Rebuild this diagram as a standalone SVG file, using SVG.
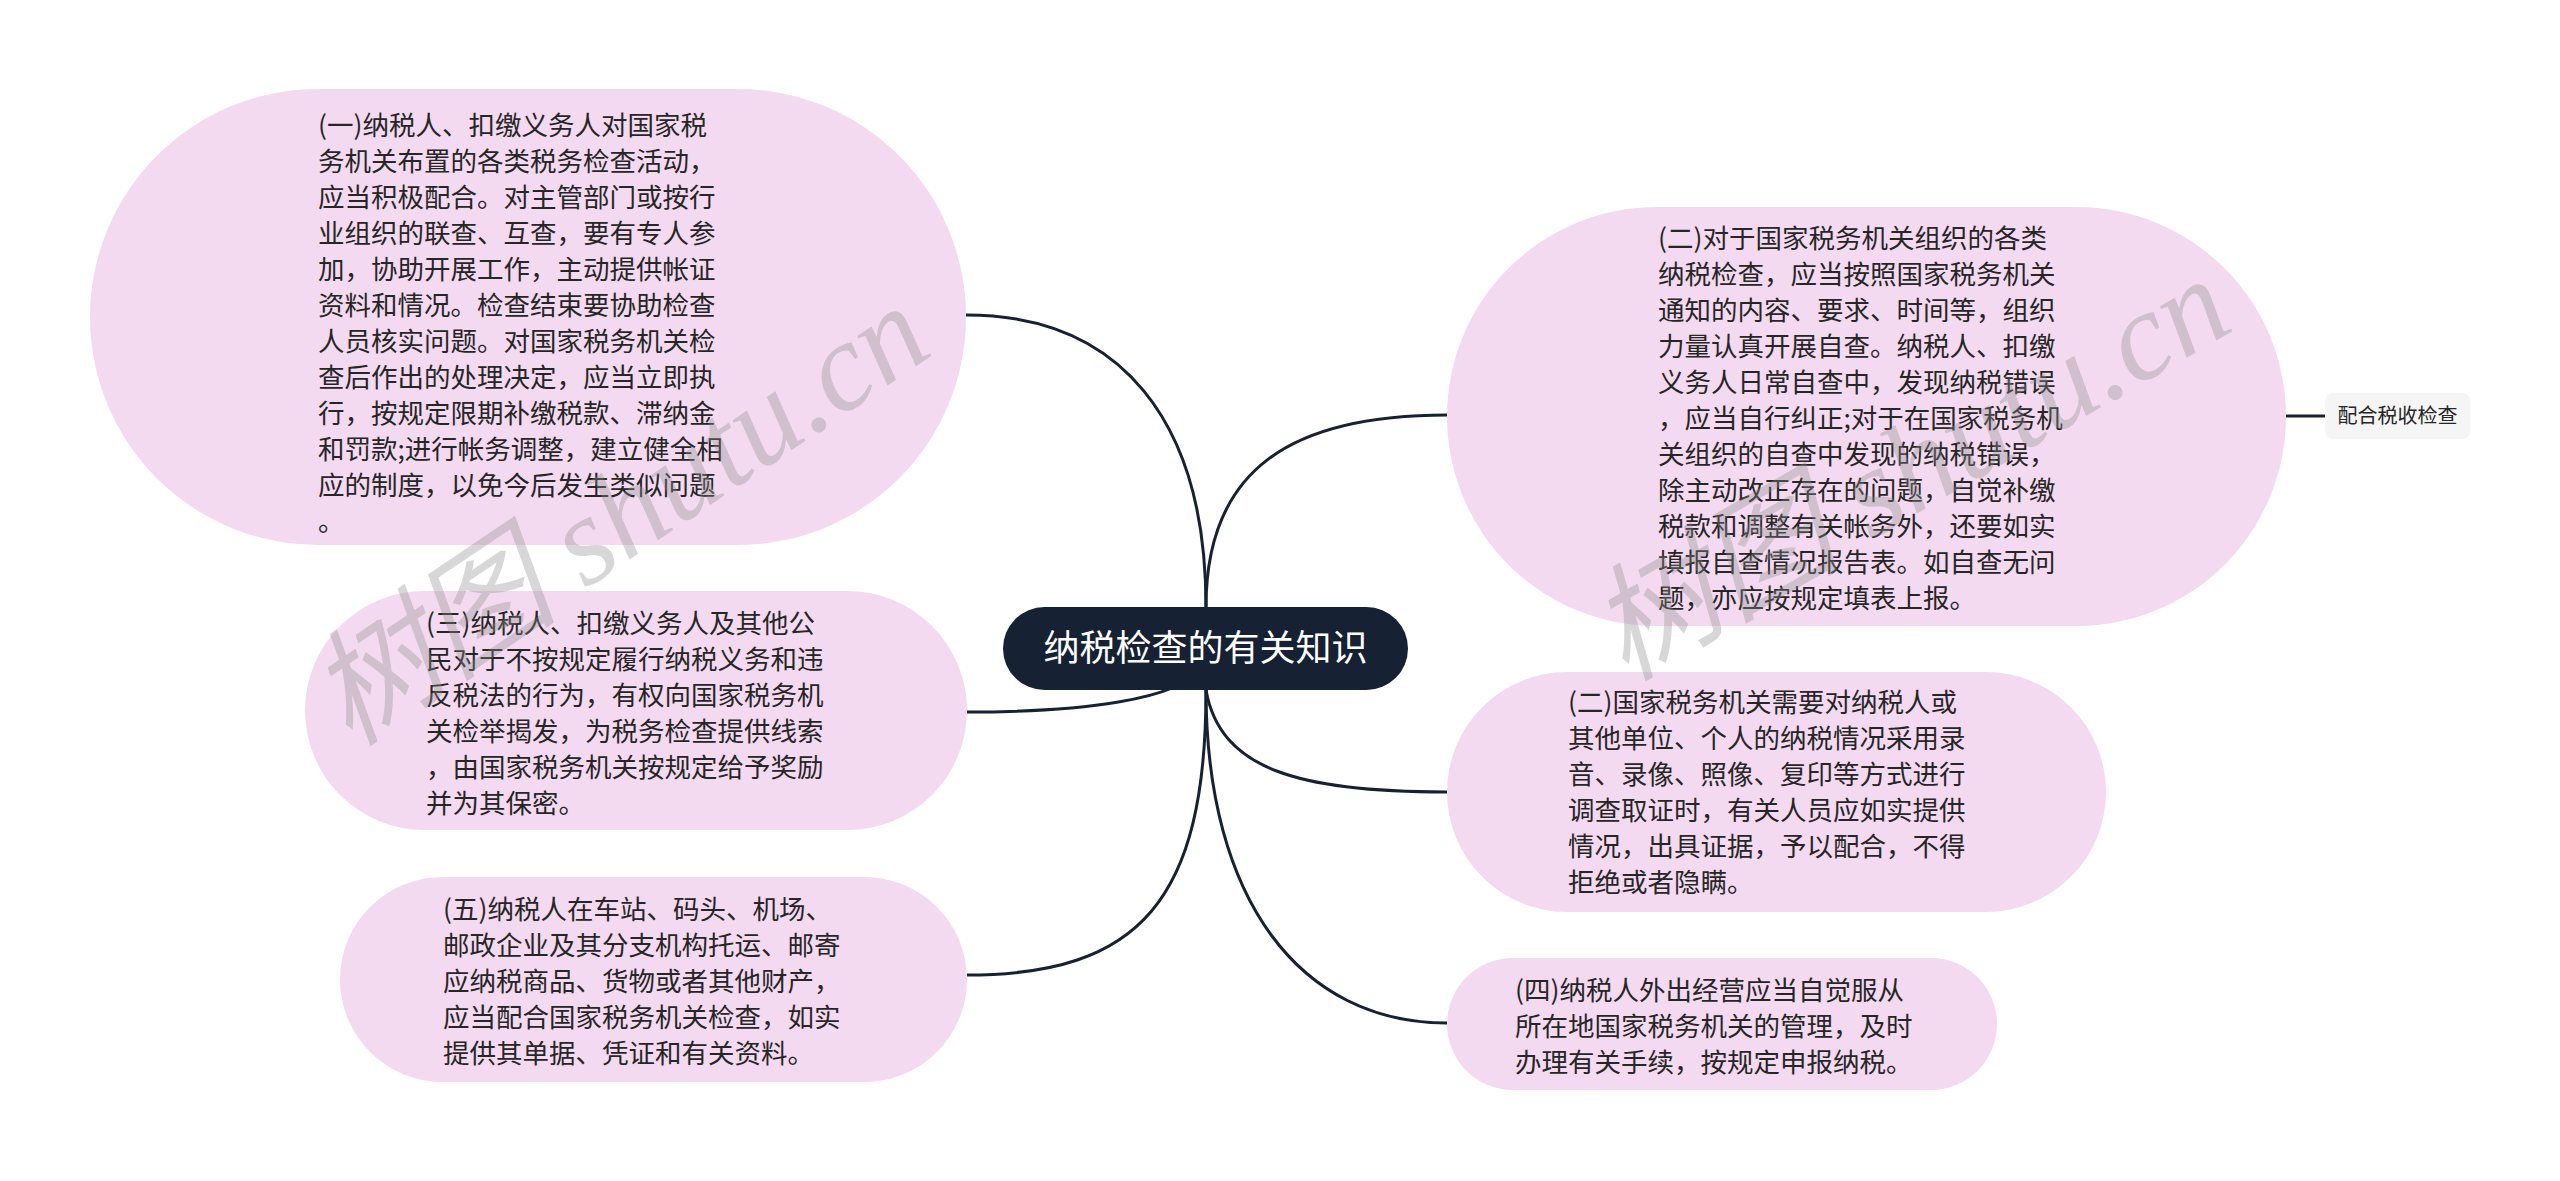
<svg xmlns="http://www.w3.org/2000/svg" width="2560" height="1181" viewBox="0 0 2560 1181">
<style>
.bubble{fill:#f4daf0;}
.t{font-family:"Noto Sans CJK SC","Liberation Sans",sans-serif;font-size:26.5px;fill:#262626;}
.root{fill:#162134;}
.rt{font-family:"Noto Sans CJK SC","Liberation Sans",sans-serif;font-size:36px;fill:#ffffff;}
.leaf{fill:#f5f5f5;}
.lt{font-family:"Noto Sans CJK SC","Liberation Sans",sans-serif;font-size:20px;fill:#262626;}
.c{fill:none;stroke:#162134;stroke-width:3;}
.wm{font-family:"Liberation Serif","Noto Sans CJK SC",serif;font-style:italic;font-size:126px;fill:#8c8c8c;fill-opacity:0.35;}
</style>
<rect width="2560" height="1181" fill="#ffffff"/>
<g id="connectors">
<path class="c" d="M1206,607 C1206,420 1120,315 966,315"/>
<path class="c" d="M1206,607 C1206,470 1290,415 1447,415"/>
<path class="c" d="M1200,668 C1180,700 1080,712 967,712"/>
<path class="c" d="M1206,690 C1206,900 1140,975 967,975"/>
<path class="c" d="M1206,690 C1220,770 1300,792 1447,792"/>
<path class="c" d="M1206,690 C1206,900 1300,1023 1447,1023"/>
<path class="c" d="M2286,416 L2325,416"/>
</g>
<g id="node-root">
<rect class="root" x="1003" y="607" width="405" height="83" rx="41.5"/>
<text class="rt" x="1205.5" y="661" text-anchor="middle">纳税检查的有关知识</text>
</g>
<g id="node-1">
<rect class="bubble" x="90" y="89" width="876" height="456" rx="228"/>
<text class="t">
<tspan x="318" y="134.5">(一)纳税人、扣缴义务人对国家税</tspan>
<tspan x="318" y="170.5">务机关布置的各类税务检查活动，</tspan>
<tspan x="318" y="206.5">应当积极配合。对主管部门或按行</tspan>
<tspan x="318" y="242.5">业组织的联查、互查，要有专人参</tspan>
<tspan x="318" y="278.5">加，协助开展工作，主动提供帐证</tspan>
<tspan x="318" y="314.5">资料和情况。检查结束要协助检查</tspan>
<tspan x="318" y="350.5">人员核实问题。对国家税务机关检</tspan>
<tspan x="318" y="386.5">查后作出的处理决定，应当立即执</tspan>
<tspan x="318" y="422.5">行，按规定限期补缴税款、滞纳金</tspan>
<tspan x="318" y="458.5">和罚款;进行帐务调整，建立健全相</tspan>
<tspan x="318" y="494.5">应的制度，以免今后发生类似问题</tspan>
<tspan x="318" y="530.5">。</tspan>
</text>
</g>
<g id="node-2a">
<rect class="bubble" x="1447" y="207" width="839" height="419" rx="209.5"/>
<text class="t">
<tspan x="1658" y="247.5">(二)对于国家税务机关组织的各类</tspan>
<tspan x="1658" y="283.5">纳税检查，应当按照国家税务机关</tspan>
<tspan x="1658" y="319.5">通知的内容、要求、时间等，组织</tspan>
<tspan x="1658" y="355.5">力量认真开展自查。纳税人、扣缴</tspan>
<tspan x="1658" y="391.5">义务人日常自查中，发现纳税错误</tspan>
<tspan x="1658" y="427.5">，应当自行纠正;对于在国家税务机</tspan>
<tspan x="1658" y="463.5">关组织的自查中发现的纳税错误，</tspan>
<tspan x="1658" y="499.5">除主动改正存在的问题，自觉补缴</tspan>
<tspan x="1658" y="535.5">税款和调整有关帐务外，还要如实</tspan>
<tspan x="1658" y="571.5">填报自查情况报告表。如自查无问</tspan>
<tspan x="1658" y="607.5">题，亦应按规定填表上报。</tspan>
</text>
</g>
<g id="node-leaf">
<rect class="leaf" x="2325" y="393" width="145" height="46" rx="8"/>
<text class="lt" x="2397.5" y="423" text-anchor="middle">配合税收检查</text>
</g>
<g id="node-3">
<rect class="bubble" x="305" y="591" width="662" height="239" rx="119.5"/>
<text class="t">
<tspan x="426" y="632.5">(三)纳税人、扣缴义务人及其他公</tspan>
<tspan x="426" y="668.5">民对于不按规定履行纳税义务和违</tspan>
<tspan x="426" y="704.5">反税法的行为，有权向国家税务机</tspan>
<tspan x="426" y="740.5">关检举揭发，为税务检查提供线索</tspan>
<tspan x="426" y="776.5">，由国家税务机关按规定给予奖励</tspan>
<tspan x="426" y="812.5">并为其保密。</tspan>
</text>
</g>
<g id="node-2b">
<rect class="bubble" x="1447" y="672" width="659" height="240" rx="120"/>
<text class="t">
<tspan x="1568" y="711.5">(二)国家税务机关需要对纳税人或</tspan>
<tspan x="1568" y="747.5">其他单位、个人的纳税情况采用录</tspan>
<tspan x="1568" y="783.5">音、录像、照像、复印等方式进行</tspan>
<tspan x="1568" y="819.5">调查取证时，有关人员应如实提供</tspan>
<tspan x="1568" y="855.5">情况，出具证据，予以配合，不得</tspan>
<tspan x="1568" y="891.5">拒绝或者隐瞒。</tspan>
</text>
</g>
<g id="node-5">
<rect class="bubble" x="340" y="877" width="627" height="205" rx="102.5"/>
<text class="t">
<tspan x="443" y="918.5">(五)纳税人在车站、码头、机场、</tspan>
<tspan x="443" y="954.5">邮政企业及其分支机构托运、邮寄</tspan>
<tspan x="443" y="990.5">应纳税商品、货物或者其他财产，</tspan>
<tspan x="443" y="1026.5">应当配合国家税务机关检查，如实</tspan>
<tspan x="443" y="1062.5">提供其单据、凭证和有关资料。</tspan>
</text>
</g>
<g id="node-4">
<rect class="bubble" x="1447" y="958" width="550" height="132" rx="66"/>
<text class="t">
<tspan x="1515" y="999.5">(四)纳税人外出经营应当自觉服从</tspan>
<tspan x="1515" y="1035.5">所在地国家税务机关的管理，及时</tspan>
<tspan x="1515" y="1071.5">办理有关手续，按规定申报纳税。</tspan>
</text>
</g>
<g id="watermark">
<text class="wm" transform="translate(350,748) rotate(-34)">树图 shutu.cn</text>
<text class="wm" transform="translate(1625,682) rotate(-30)">树图 shutu.cn</text>
</g>
</svg>
